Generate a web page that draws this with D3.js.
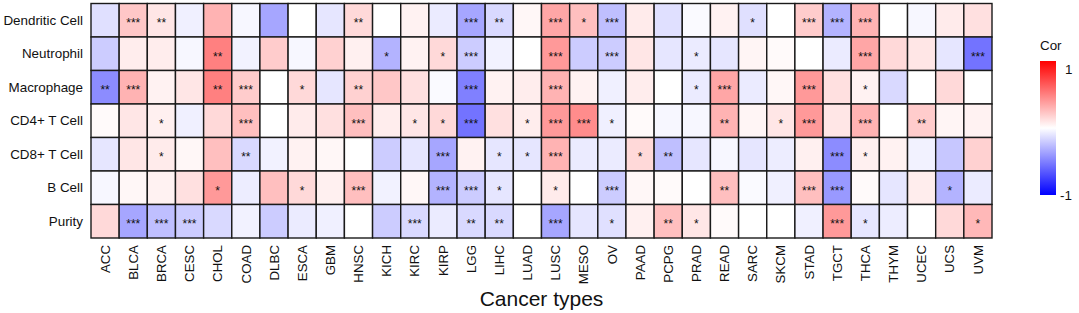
<!DOCTYPE html>
<html lang="en">
<head>
<meta charset="UTF-8">
<title>Immune infiltration correlation</title>
<script src="https://d3js.org/d3.v7.min.js"></script>
<style>
  body { margin: 0; background: #fff; }
  text { font-family: "Liberation Sans", Arial, Helvetica, sans-serif; }
</style>
</head>
<body>
<svg id="chart"></svg>
<script>
// cancer types (columns)
var cancers = ["ACC","BLCA","BRCA","CESC","CHOL","COAD","DLBC","ESCA","GBM","HNSC","KICH","KIRC","KIRP","LGG","LIHC","LUAD",
               "LUSC","MESO","OV","PAAD","PCPG","PRAD","READ","SARC","SKCM","STAD","TGCT","THCA","THYM","UCEC","UCS","UVM"];
// immune cells (rows)
var cells = ["Dendritic Cell","Neutrophil","Macrophage","CD4+ T Cell","CD8+ T Cell","B Cell","Purity"];

// correlation per row, in cancer order
var corDC   = [-0.12,0.22,0.10,-0.06,0.30,-0.03,-0.35,0.00,-0.10,0.15,0.00,0.05,-0.08,-0.35,-0.15,0.03,
               0.35,0.25,-0.25,0.08,-0.12,-0.02,0.05,-0.12,0.00,0.20,-0.30,0.30,0.00,-0.03,0.08,0.12];
var corNeu  = [-0.20,0.07,0.07,-0.03,0.50,-0.05,0.20,-0.03,0.18,0.06,-0.30,0.05,0.15,-0.20,-0.05,0.00,
               0.40,-0.20,-0.20,0.10,-0.10,-0.08,-0.10,0.04,0.02,0.00,-0.08,0.35,0.15,0.10,-0.10,-0.55];
var corMac  = [-0.45,0.30,0.05,0.10,0.50,0.20,0.00,0.15,-0.10,0.18,0.22,0.12,-0.02,-0.50,0.05,0.07,
               0.30,0.05,-0.06,0.07,0.00,-0.08,0.35,-0.08,0.03,0.40,0.12,0.05,-0.15,0.00,0.15,0.00];
var corCD4  = [0.02,0.10,0.06,-0.06,0.15,0.25,0.00,0.08,0.12,0.25,0.07,0.10,0.15,-0.55,0.12,0.07,
               0.40,0.45,-0.06,0.02,-0.03,-0.03,0.30,0.04,0.10,0.40,0.10,0.30,0.00,0.20,0.04,0.05];
var corCD8  = [-0.10,0.10,0.08,0.03,0.25,-0.15,-0.05,0.05,0.03,0.00,-0.20,-0.10,-0.35,0.05,-0.10,-0.10,
               0.30,-0.08,-0.08,0.15,-0.25,-0.10,-0.03,-0.10,-0.07,0.06,-0.45,0.06,0.05,-0.05,-0.22,0.18];
var corB    = [-0.03,0.03,0.05,0.12,0.40,-0.07,0.25,0.15,0.06,0.25,-0.05,0.03,-0.30,-0.20,-0.10,0.00,
               0.08,0.00,-0.20,0.03,0.02,0.00,0.25,-0.02,-0.06,0.25,-0.40,0.02,-0.10,0.07,-0.30,-0.08];
var corPur  = [0.15,-0.35,-0.25,-0.20,-0.15,-0.05,-0.20,-0.08,-0.06,0.00,-0.20,-0.15,-0.08,-0.15,-0.15,0.00,
               -0.35,-0.10,-0.12,0.06,0.25,0.10,0.02,0.00,0.00,-0.06,0.40,-0.10,-0.07,0.00,0.15,0.28];

// significance stars per row
var sigDC   = ["","***","**","","","","","","","**","","","","***","**","",
               "***","*","***","","","","","*","","***","***","***","","","",""];
var sigNeu  = ["","","","","**","","","","","","*","","*","***","","",
               "***","","***","","","*","","","","","","***","","","","***"];
var sigMac  = ["**","***","","","**","***","","*","","**","","","","***","","",
               "***","","","","","*","***","","","***","","*","","","",""];
var sigCD4  = ["","","*","","","***","","","","***","","*","*","***","","*",
               "***","***","*","","","","**","","*","***","","***","","**","",""];
var sigCD8  = ["","","*","","","**","","","","","","","***","","*","*",
               "***","","","*","**","","","","","","***","*","","","",""];
var sigB    = ["","","","","*","","","*","","***","","","***","***","*","",
               "*","","***","","","","**","","","***","***","","","","*",""];
var sigPur  = ["","***","***","***","","","","","","","","***","","**","**","",
               "***","","*","","**","*","","","","","***","*","","","","*"];

var corRows = [corDC, corNeu, corMac, corCD4, corCD8, corB, corPur];
var sigRows = [sigDC, sigNeu, sigMac, sigCD4, sigCD8, sigB, sigPur];

var W = 1079, H = 313;
var margin = {top: 3.5, left: 91, right: 87, bottom: 75};
var gw = W - margin.left - margin.right,
    gh = H - margin.top - margin.bottom;

var svg = d3.select("#chart").attr("width", W).attr("height", H);
var g = svg.append("g").attr("transform", "translate(" + margin.left + "," + margin.top + ")");

var x = d3.scaleBand().domain(cancers).range([0, gw]);
var y = d3.scaleBand().domain(cells).range([0, gh]);
var color = d3.scaleLinear().domain([-1, 0, 1]).range(["#0000ff", "#ffffff", "#ff0000"]);

// flatten into a table for the cells
var table = [];
cells.forEach(function(c, i) {
    cancers.forEach(function(t, j) {
        table.push({cell: c, cancer: t, cor: corRows[i][j], sig: sigRows[i][j]});
    });
});

g.selectAll("rect.tile")
    .data(table)
    .enter().append("rect")
    .attr("class", "tile")
    .attr("x", d => x(d.cancer))
    .attr("y", d => y(d.cell))
    .attr("width", x.bandwidth())
    .attr("height", y.bandwidth())
    .attr("fill", d => color(d.cor))
    .attr("stroke", "#1a1a1a")
    .attr("stroke-width", 1.4);

g.selectAll("text.sig")
    .data(table.filter(d => d.sig))
    .enter().append("text")
    .attr("class", "sig")
    .attr("x", d => x(d.cancer) + x.bandwidth() / 2)
    .attr("y", d => y(d.cell) + y.bandwidth() / 2 + 7)
    .attr("text-anchor", "middle")
    .style("font-size", "12px")
    .style("fill", "#111")
    .text(d => d.sig);

// row labels
var yAxis = g.append("g")
    .call(d3.axisLeft(y).tickSize(0).tickPadding(8));
yAxis.select(".domain").remove();
yAxis.selectAll("text").style("font-size", "13.4px").style("fill", "#111")
    .style("font-family", "'Liberation Sans', Arial, sans-serif");

// column labels
var xAxis = g.append("g")
    .attr("transform", "translate(0," + gh + ")")
    .call(d3.axisBottom(x).tickSize(0).tickPadding(0));
xAxis.select(".domain").remove();
xAxis.selectAll("text")
    .attr("transform", "rotate(-90)")
    .attr("x", -7)
    .attr("y", 0)
    .attr("dy", "0.35em")
    .style("text-anchor", "end")
    .style("font-size", "13.3px")
    .style("fill", "#111")
    .style("font-family", "'Liberation Sans', Arial, sans-serif");

svg.append("text")
    .attr("x", margin.left + gw / 2)
    .attr("y", 306)
    .attr("text-anchor", "middle")
    .style("font-size", "21px")
    .style("fill", "#111")
    .text("Cancer types");

// legend
var lg = svg.append("g").attr("transform", "translate(1040,61)");
var defs = svg.append("defs");
var grad = defs.append("linearGradient").attr("id", "corGrad")
    .attr("x1", 0).attr("y1", 1).attr("x2", 0).attr("y2", 0);
[-1, -0.5, 0, 0.5, 1].forEach(function(v) {
    grad.append("stop").attr("offset", ((v + 1) / 2 * 100) + "%").attr("stop-color", color(v));
});
var ly = d3.scaleLinear().domain([1, -1]).range([0, 134]);
lg.append("rect").attr("width", 16).attr("height", 134).attr("fill", "url(#corGrad)");
lg.append("text").attr("x", 0).attr("y", -11).style("font-size", "13.4px").style("fill", "#111").text("Cor");
[1, -1].forEach(function(v) {
    lg.append("text")
        .attr("x", v === 1 ? 25 : 20)
        .attr("y", ly(v) + (v === 1 ? 8 : 0))
        .attr("dy", "0.35em")
        .style("font-size", "13.4px")
        .style("fill", "#111")
        .text(v);
});
</script>
</body>
</html>
